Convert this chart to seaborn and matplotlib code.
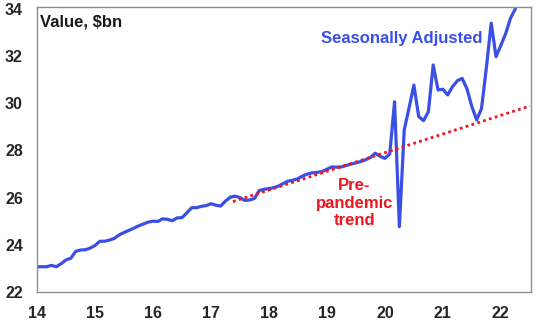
import numpy as np
import pandas as pd
import matplotlib
matplotlib.use("Agg")
import matplotlib.pyplot as plt
import seaborn as sns

start_year = 14.0
values = [
    23.07, 23.07, 23.07, 23.13, 23.07, 23.20, 23.36, 23.43, 23.72, 23.78, 23.79, 23.86,
    23.97, 24.15, 24.15, 24.20, 24.27, 24.42, 24.52, 24.61, 24.70, 24.80, 24.88, 24.96,
    25.00, 24.99, 25.10, 25.08, 25.02, 25.14, 25.15, 25.35, 25.57, 25.57, 25.63, 25.66,
    25.74, 25.68, 25.64, 25.85, 26.02, 26.06, 26.00, 25.88, 25.90, 25.96, 26.30, 26.35,
    26.38, 26.42, 26.49, 26.60, 26.70, 26.74, 26.80, 26.92, 27.00, 27.05, 27.07, 27.10,
    27.20, 27.30, 27.29, 27.30, 27.36, 27.42, 27.47, 27.53, 27.60, 27.70, 27.88, 27.75,
    27.66, 27.85, 30.06, 24.77, 28.86, 29.80, 30.77, 29.43, 29.26, 29.64, 31.62, 30.56,
    30.59, 30.35, 30.70, 30.95, 31.05, 30.60, 29.85, 29.29, 29.78, 31.50, 33.39, 31.97,
    32.45, 32.95, 33.60, 34.00,
]
trend_x = [17.38, 22.5]
trend_y = [25.83, 29.88]
x_ticks = [14, 15, 16, 17, 18, 19, 20, 21, 22]
y_ticks = [22, 24, 26, 28, 30, 32, 34]

dates = [start_year + i / 12 for i in range(len(values))]
df = pd.DataFrame({"x": dates, "y": values})
tdf = pd.DataFrame({"x": trend_x, "y": trend_y})

sns.set_style("white")
plt.rcParams['font.family'] = ['Liberation Sans', 'DejaVu Sans']

blue = '#3a4fe6'
red = '#f0141e'

fig = plt.figure(figsize=(5.48, 3.27), dpi=100)
ax = fig.add_axes([0.0675, 0.107, 0.9015, 0.872])

sns.lineplot(data=df, x="x", y="y", ax=ax, color=blue, linewidth=2.3)
sns.lineplot(data=tdf, x="x", y="y", ax=ax, color=red, linewidth=2.0,
             linestyle=(0, (1, 1.2)))

ax.set_xlim(14, 22.52)
ax.set_ylim(22, 34.08)
ax.set_xticks(x_ticks)
ax.set_yticks(y_ticks)
ax.set_xticklabels([str(t) for t in x_ticks], fontsize=11.5, fontweight='bold')
ax.set_yticklabels([str(t) for t in y_ticks], fontsize=11.5, fontweight='bold')
ax.tick_params(axis='x', length=0, pad=10)
ax.tick_params(axis='y', length=0, pad=10)
for lbl in ax.get_yticklabels():
    lbl.set_horizontalalignment('left')
ax.yaxis.set_tick_params(pad=23)
ax.set_xlabel("")
ax.set_ylabel("")
for side in ['top', 'right', 'left', 'bottom']:
    ax.spines[side].set_visible(True)
    ax.spines[side].set_color('#8a9090')
    ax.spines[side].set_linewidth(1.0)

ax.text(0.006, 0.947, "Value, $bn", transform=ax.transAxes, fontsize=12,
        fontweight='bold', color='#1a1a1a', ha='left', va='center')
ax.text(20.29, 32.76, "Seasonally Adjusted", fontsize=12, fontweight='bold',
        color=blue, ha='center', va='center')
ax.text(19.47, 25.77, "Pre-\npandemic\ntrend", fontsize=12, fontweight='bold',
        color=red, ha='center', va='center', linespacing=1.2)

fig.savefig("out.png", dpi=100)
